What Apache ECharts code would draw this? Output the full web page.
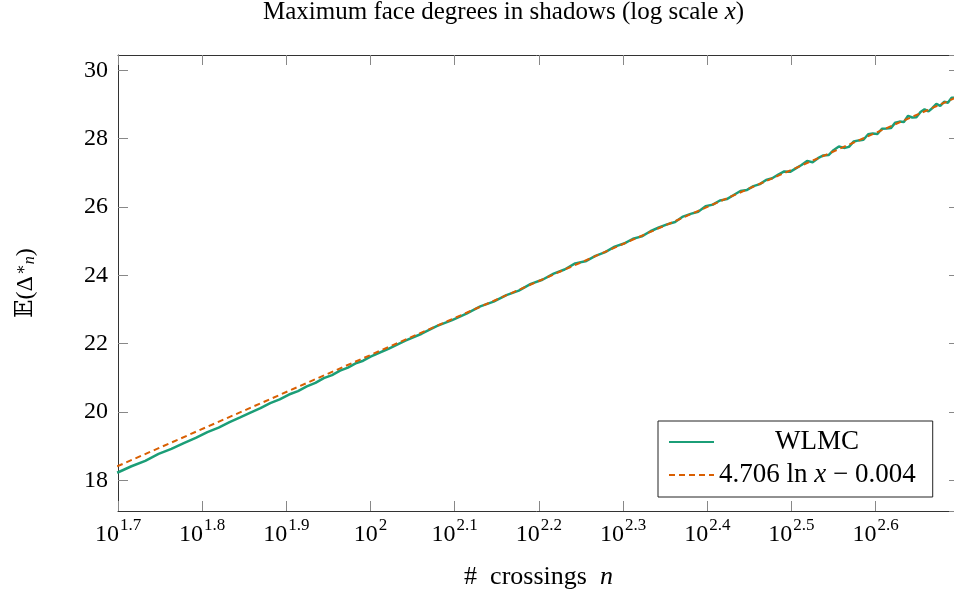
<!DOCTYPE html>
<html>
<head>
<meta charset="utf-8">
<script src="https://cdn.jsdelivr.net/npm/echarts@6/dist/echarts.min.js"></script>
<style>
  html, body { margin: 0; padding: 0; background: #fff; }
  #chart { width: 954px; height: 590px; }
</style>
</head>
<body>
<div id="chart"></div>
<script>
// crossings n and measured mean max face degree (WLMC)
const wlmcN = [
  50, 52, 54, 56, 58, 60, 62, 64, 66, 68, 70, 72, 74, 76, 78, 80, 82, 84, 86, 88, 90, 92, 94, 96, 98, 100,
  105, 110, 115, 120, 125, 130, 135, 140, 145, 150, 155, 160, 165, 170, 175, 180, 185, 190, 195, 200,
  205, 210, 215, 220, 225, 230, 235, 240, 245, 250, 255, 260, 265, 270, 275, 280, 285, 290, 295, 300,
  305, 310, 315, 320, 325, 330, 335, 340, 345, 350, 355, 360, 365, 370, 375, 380, 385, 390, 395, 400,
  405, 410, 415, 420, 425, 430, 435, 440, 445, 450, 455, 460, 465, 470, 475, 480, 485, 490, 495, 500
]
const wlmcVals = [
  18.22, 18.41, 18.57, 18.77, 18.92, 19.09, 19.24, 19.41, 19.54, 19.70, 19.84, 19.98, 20.11, 20.26, 20.37, 20.51,
  20.61, 20.75, 20.85, 20.99, 21.08, 21.21, 21.30, 21.42, 21.50, 21.62,
  21.85, 22.09, 22.29, 22.52, 22.69, 22.88, 23.09, 23.23, 23.42, 23.55, 23.75, 23.87, 24.05, 24.17, 24.35, 24.41,
  24.57, 24.68, 24.84, 24.93,
  25.07, 25.14, 25.29, 25.40, 25.49, 25.56, 25.72, 25.80, 25.86, 26.02, 26.07, 26.19, 26.23, 26.35, 26.47, 26.50,
  26.61, 26.67, 26.79, 26.84,
  26.95, 27.04, 27.03, 27.13, 27.23, 27.35, 27.31, 27.43, 27.51, 27.52, 27.67, 27.77, 27.73, 27.76, 27.92, 27.95,
  27.97, 28.13, 28.15, 28.14,
  28.29, 28.30, 28.31, 28.47, 28.50, 28.49, 28.67, 28.62, 28.63, 28.78, 28.86, 28.80, 28.90, 29.02, 28.96, 29.08,
  29.05, 29.20, 29.20, 29.26
]

// fitted curve 4.706 ln x - 0.004, sampled
const fitN = [50, 75, 100, 150, 200, 300, 400, 500]
const fitVals = [18.406, 20.314, 21.668, 23.576, 24.930, 26.838, 28.192, 29.242]

const xTickExps = [1.7, 1.8, 1.9, 2.0, 2.1, 2.2, 2.3, 2.4, 2.5, 2.6]
const yTicks = [18, 20, 22, 24, 26, 28, 30]

const FONT = '"Liberation Serif", "DejaVu Serif", serif'
const GREEN = '#1b9e77'
const ORANGE = '#d95f02'

const toXY = (ns, vs) => ns.map((n, i) => [Math.log10(n), vs[i]])

const supRich = {
  b: { fontFamily: FONT, fontSize: 24, color: '#000', verticalAlign: 'bottom', lineHeight: 34 },
  s: { fontFamily: FONT, fontSize: 17, color: '#000', verticalAlign: 'bottom', padding: [0, 0, 13, 1] }
}

const expLabel = v => {
  const e = Math.round(v * 10) / 10
  if (!xTickExps.some(t => Math.abs(t - e) < 1e-6)) return ''
  const s = Number.isInteger(e) ? String(e) : e.toFixed(1)
  return '{b|10}{s|' + s + '}'
}

const axisLine = { show: true, lineStyle: { color: '#333', width: 1 } }
const tick = { show: true, inside: true, length: 10, lineStyle: { color: '#888', width: 1 } }

const chart = echarts.init(document.getElementById('chart'), null, { renderer: 'canvas' })

chart.setOption({
  animation: false,
  backgroundColor: '#fff',
  title: {
    text: 'Maximum face degrees in shadows (log scale {i|x})',
    left: 258,
    top: -5,
    textStyle: {
      fontFamily: FONT, fontSize: 25, fontWeight: 'normal', color: '#000',
      rich: {
        i: { fontFamily: FONT, fontSize: 25, fontStyle: 'italic', color: '#000' }
      }
    }
  },
  grid: { left: 118, top: 55, right: -5, height: 456, containLabel: false, outerBoundsMode: 'none' },
  legend: {
    orient: 'vertical',
    left: 658,
    top: 421,
    padding: [7, 17, 8, 10],
    itemGap: 5,
    itemWidth: 45,
    itemHeight: 14,
    borderColor: '#222',
    borderWidth: 1,
    backgroundColor: '#fff',
    itemStyle: { opacity: 0, borderWidth: 0 },
    data: ['WLMC', 'fit'],
    formatter: name => name === 'WLMC'
      ? '{c|WLMC}'
      : '{t|4.706 ln }{i|x}{t| − 0.004}',
    textStyle: {
      fontFamily: FONT, fontSize: 27, color: '#000', lineHeight: 28,
      rich: {
        c: { fontFamily: FONT, fontSize: 27, width: 196, align: 'center' },
        t: { fontFamily: FONT, fontSize: 27 },
        i: { fontFamily: FONT, fontSize: 27, fontStyle: 'italic' }
      }
    }
  },
  xAxis: [
    {
      type: 'value',
      position: 'bottom',
      min: 1.7,
      max: Math.log10(500),
      interval: 0.1,
      axisLine,
      axisTick: tick,
      splitLine: { show: false },
      axisLabel: {
        margin: 2,
        showMaxLabel: false,
        formatter: expLabel,
        rich: supRich
      },
      name: '#  crossings  {i|n}',
      nameLocation: 'middle',
      nameGap: 53,
      nameTextStyle: {
        fontFamily: FONT, fontSize: 26, color: '#000',
        rich: { i: { fontFamily: FONT, fontSize: 26, fontStyle: 'italic' } }
      }
    },
    {
      type: 'value',
      position: 'top',
      min: 1.7,
      max: Math.log10(500),
      interval: 0.1,
      axisLine,
      axisTick: tick,
      axisLabel: { show: false },
      splitLine: { show: false }
    }
  ],
  yAxis: [
    {
      type: 'value',
      position: 'left',
      min: 17.1,
      max: 30.45,
      minInterval: 2,
      maxInterval: 2,
      axisLine,
      axisTick: tick,
      splitLine: { show: false },
      axisLabel: {
        margin: 10,
        showMinLabel: false,
        showMaxLabel: false,
        fontFamily: FONT,
        fontSize: 24,
        color: '#000',
        formatter: v => yTicks.includes(Math.round(v * 1000) / 1000) ? String(v) : ''
      },
      name: '𝔼(Δ{s|∗}{n|n})',
      nameLocation: 'middle',
      nameGap: 80,
      nameTextStyle: {
        fontFamily: FONT, fontSize: 24, color: '#000',
        rich: {
          s: { fontFamily: FONT, fontSize: 16, verticalAlign: 'top', padding: [0, 0, 0, 1] },
          n: { fontFamily: FONT, fontSize: 16, fontStyle: 'italic', verticalAlign: 'bottom' }
        }
      }
    },
    {
      type: 'value',
      position: 'right',
      min: 17.1,
      max: 30.45,
      minInterval: 2,
      maxInterval: 2,
      axisLine,
      axisTick: tick,
      axisLabel: { show: false },
      splitLine: { show: false }
    }
  ],
  series: [
    {
      name: 'WLMC',
      type: 'line',
      data: toXY(wlmcN, wlmcVals),
      showSymbol: false,
      symbol: 'none',
      lineStyle: { color: GREEN, width: 2.5 },
      itemStyle: { color: GREEN },
      z: 2
    },
    {
      name: 'fit',
      type: 'line',
      data: toXY(fitN, fitVals),
      showSymbol: false,
      symbol: 'none',
      lineStyle: { color: ORANGE, width: 2, type: [6, 4] },
      itemStyle: { color: ORANGE },
      z: 3
    }
  ]
})
</script>
</body>
</html>
